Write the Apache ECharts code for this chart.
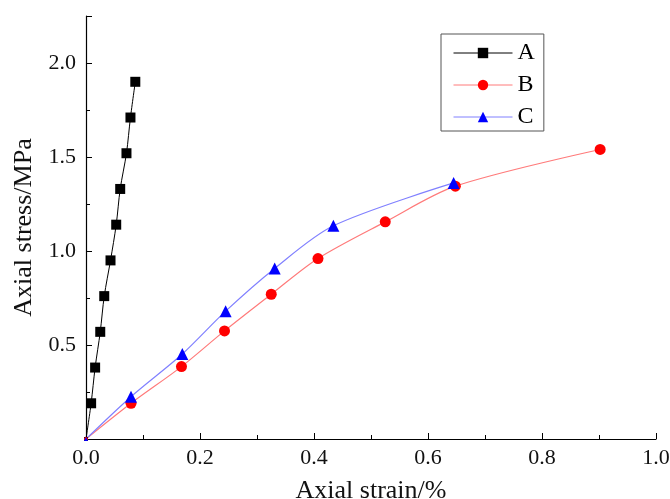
<!DOCTYPE html>
<html>
<head>
<meta charset="utf-8">
<script src="https://cdn.jsdelivr.net/npm/echarts@6/dist/echarts.min.js"></script>
<style>
  html, body { margin: 0; padding: 0; background: #fff; }
  #chart { width: 670px; height: 499px; }
</style>
</head>
<body>
<div id="chart"></div>
<script>
// 曲线数据（轴向应变 %, 轴向应力 MPa）
const strainA = [0, 0.009, 0.016, 0.025, 0.032, 0.043, 0.053, 0.060, 0.071, 0.078, 0.0865]
const stressA = [0, 0.19, 0.38, 0.57, 0.76, 0.95, 1.14, 1.33, 1.52, 1.71, 1.90]
const strainB = [0, 0.079, 0.1675, 0.243, 0.325, 0.407, 0.525, 0.648, 0.902]
const stressB = [0, 0.19, 0.385, 0.575, 0.77, 0.96, 1.155, 1.345, 1.54]
const strainC = [0, 0.079, 0.169, 0.245, 0.331, 0.434, 0.645]
const stressC = [0, 0.225, 0.452, 0.68, 0.907, 1.134, 1.362]
const seriesNames = ['A', 'B', 'C']

const pair = (xs, ys) => xs.map((x, i) => [x, ys[i]])
const font = 'Liberation Serif'

const chartInstance = echarts.init(document.getElementById('chart'))

// 原点处的标记画得很小
const symSize = big => val => (val[0] === 0 ? 4 : big)

const option = {
  animation: false,
  backgroundColor: '#fff',
  grid: { left: 86, right: 14, top: 16, bottom: 60, containLabel: false, outerBoundsMode: 'none' },
  legend: {
    orient: 'vertical',
    left: 441,
    top: 34,
    itemWidth: 59,
    itemHeight: 13,
    itemGap: 8,
    padding: [7, 9, 2, 12],
    borderColor: '#555',
    borderWidth: 1,
    lineStyle: { width: 1 },
    textStyle: { fontFamily: font, fontSize: 24, color: '#000' },
    data: seriesNames
  },
  xAxis: {
    type: 'value',
    min: 0,
    max: 1.0,
    interval: 0.2,
    name: 'Axial strain/%',
    nameLocation: 'middle',
    nameGap: 39,
    nameTextStyle: { fontFamily: font, fontSize: 26, color: '#111' },
    axisLine: { lineStyle: { color: '#000', width: 1.2 } },
    axisTick: { inside: true, length: 6, lineStyle: { color: '#000' } },
    minorTick: { show: true, splitNumber: 2, length: 4, lineStyle: { color: '#000' } },
    splitLine: { show: false },
    axisLabel: {
      margin: 8,
      fontFamily: font,
      fontSize: 22,
      color: '#111',
      formatter: v => v.toFixed(1)
    }
  },
  yAxis: [
    {
      type: 'value',
      min: 0,
      max: 2.25,
      interval: 0.5,
      name: 'Axial stress/MPa',
      nameLocation: 'middle',
      nameGap: 40,
      nameTextStyle: { fontFamily: font, fontSize: 26, color: '#111' },
      axisLine: { show: true, lineStyle: { color: '#000', width: 1.2 } },
      axisTick: { show: true, inside: true, length: 6, lineStyle: { color: '#000' } },
      splitLine: { show: false },
      axisLabel: {
        margin: 10,
        fontFamily: font,
        fontSize: 22,
        color: '#111',
        showMinLabel: false,
        formatter: v => (Math.abs(v * 2 - Math.round(v * 2)) < 1e-6 ? v.toFixed(1) : '')
      }
    },
    {
      // 次刻度
      type: 'value',
      position: 'left',
      min: 0,
      max: 2.25,
      interval: 0.25,
      axisLine: { show: false },
      axisTick: { show: true, inside: true, length: 4, lineStyle: { color: '#000' } },
      axisLabel: { show: false },
      splitLine: { show: false }
    }
  ],
  series: [
    {
      name: 'A',
      type: 'line',
      smooth: 0.3,
      data: pair(strainA, stressA),
      symbol: 'rect',
      symbolSize: symSize(10),
      lineStyle: { color: '#000', width: 1 },
      itemStyle: { color: '#000' }
    },
    {
      name: 'B',
      type: 'line',
      smooth: 0.3,
      data: pair(strainB, stressB),
      symbol: 'circle',
      symbolSize: symSize(11),
      lineStyle: { color: '#ff7a7a', width: 1.2 },
      itemStyle: { color: '#ff0000' }
    },
    {
      name: 'C',
      type: 'line',
      smooth: 0.3,
      data: pair(strainC, stressC),
      symbol: 'triangle',
      symbolSize: symSize(12),
      lineStyle: { color: '#8080ff', width: 1.2 },
      itemStyle: { color: '#0000ff' }
    }
  ]
}

chartInstance.setOption(option)
</script>
</body>
</html>
